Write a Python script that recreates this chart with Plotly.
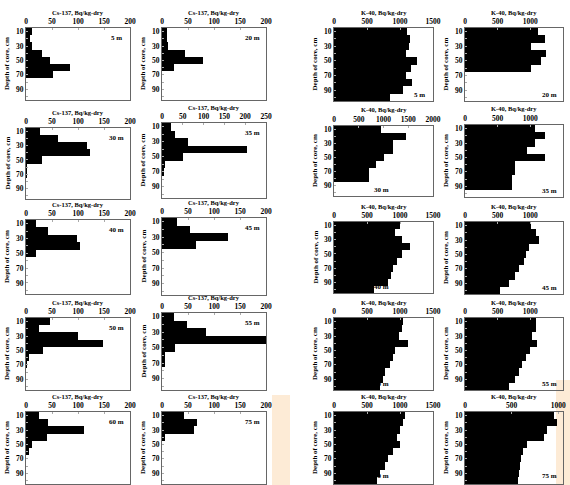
import plotly.graph_objects as go

W, H = 570, 485
depths = [10, 20, 30, 40, 50, 60, 70, 80, 90, 100]

# Cs-137 profiles (Bq/kg-dry), layers centred at depths above
cs_5m = [11, 8, 11, 30, 46, 85, 52]
cs_20m = [10, 10, 12, 45, 79, 23]
cs_30m = [27, 61, 117, 124, 31, 1, 1]
cs_35m = [22, 32, 62, 205, 50, 6, 3]
cs_40m = [20, 42, 99, 104, 19]
cs_45m = [29, 54, 127, 65]
cs_50m = [46, 25, 100, 148, 32, 5, 1]
cs_55m = [23, 48, 85, 200, 25, 5, 5]
cs_60m = [25, 43, 112, 40, 12, 5]
cs_75m = [43, 68, 61, 5]

# K-40 profiles (Bq/kg-dry)
k_5m = [1106, 1146, 1130, 1085, 1257, 1160, 1085, 1187, 1045, 843]
k_20m = [1117, 1218, 1015, 1244, 1168, 1015]
k_30m = [950, 1450, 1200, 1200, 1000, 850, 700, 700]
k_35m = [1070, 1220, 1070, 950, 1220, 760, 760, 720, 720]
k_40m = [1000, 920, 1030, 1150, 1030, 950, 900, 870, 820, 600]
k_45m = [1015, 1090, 1130, 980, 930, 900, 830, 760, 680, 530]
k_50m = [1050, 1030, 990, 1120, 920, 890, 850, 770, 740, 700]
k_55m = [1090, 1090, 1030, 1100, 990, 940, 870, 830, 760, 680]
k_60m = [1070, 1050, 1000, 950, 1000, 900, 820, 780, 700, 650]
k_75m = [950, 990, 880, 850, 660, 620, 600, 590, 580, 570]

panels = [
    # data, kind, xmax, dtick, col, (top,bottom), label, label pos
    (cs_5m, "Cs", 200, 50, 1, (28, 100), "5 m", "tr"),
    (cs_20m, "Cs", 200, 50, 2, (28, 100), "20 m", "tr"),
    (k_5m, "K", 1500, 500, 3, (28, 101), "5 m", "br"),
    (k_20m, "K", 1500, 500, 4, (28, 101), "20 m", "br"),
    (cs_30m, "Cs", 200, 50, 1, (128, 199), "30 m", "tr"),
    (cs_35m, "Cs", 250, 50, 2, (123, 198), "35 m", "tr"),
    (k_30m, "K", 2000, 500, 3, (126, 196), "30 m", "bm"),
    (k_35m, "K", 1500, 500, 4, (125, 197), "35 m", "br"),
    (cs_40m, "Cs", 200, 50, 1, (220, 294), "40 m", "tr"),
    (cs_45m, "Cs", 200, 50, 2, (218, 295), "45 m", "tr"),
    (k_40m, "K", 1500, 500, 3, (222, 293), "40 m", "bm"),
    (k_45m, "K", 1500, 500, 4, (222, 294), "45 m", "br"),
    (cs_50m, "Cs", 200, 50, 1, (318, 390), "50 m", "tr"),
    (cs_55m, "Cs", 200, 50, 2, (313, 390), "55 m", "tr"),
    (k_50m, "K", 1500, 500, 3, (318, 390), "50 m", "bm"),
    (k_55m, "K", 1500, 500, 4, (318, 390), "55 m", "br"),
    (cs_60m, "Cs", 200, 50, 1, (412, 484), "60 m", "tr"),
    (cs_75m, "Cs", 200, 50, 2, (412, 484), "75 m", "tr"),
    (k_60m, "K", 1500, 500, 3, (412, 484), "60 m", "bm"),
    (k_75m, "K", 1050, 500, 4, (412, 484), "75 m", "br"),
]

col_x = {1: (26, 130), 2: (162, 266), 3: (334, 433), 4: (465, 563)}

FONT = "Liberation Serif"
fig = go.Figure()
annotations = []

def px(x):
    return x / W

def py(y):
    return 1 - y / H

for i, (vals, kind, xmax, dt, col, (top, bot), lab, lpos) in enumerate(panels, start=1):
    xa = "x" if i == 1 else f"x{i}"
    ya = "y" if i == 1 else f"y{i}"
    fig.add_trace(go.Bar(
        x=vals, y=depths[:len(vals)], orientation="h", width=10,
        marker=dict(color="black", line=dict(width=0)),
        xaxis=xa, yaxis=ya, showlegend=False, hoverinfo="x+y",
    ))
    x0, x1 = col_x[col]
    kx = "xaxis" if i == 1 else f"xaxis{i}"
    ky = "yaxis" if i == 1 else f"yaxis{i}"
    fig.layout[kx] = dict(
        domain=[px(x0), px(x1)], anchor=ya, side="top", range=[0, xmax],
        tickvals=list(range(0, xmax + 1, dt)), ticks="inside", ticklen=2,
        tickcolor="#aaa", showline=True, linecolor="#666", linewidth=1,
        mirror=True, showgrid=False, zeroline=False, fixedrange=True,
        automargin=False,
        tickfont=dict(family=FONT, size=7.5, color="black", weight="bold"),
    )
    fig.layout[ky] = dict(
        domain=[py(bot), py(top)], anchor=xa, range=[105, 5],
        tickvals=depths, ticktext=["10", "", "30", "", "50", "", "70", "", "90", ""],
        ticks="inside", ticklen=2, tickcolor="#aaa", showline=True,
        linecolor="#666", linewidth=1, mirror=True, showgrid=False,
        zeroline=False, fixedrange=True, automargin=False,
        tickfont=dict(family=FONT, size=7.5, color="black", weight="bold"),
    )
    title = "Cs-137, Bq/kg-dry" if kind == "Cs" else "K-40, Bq/kg-dry"
    annotations.append(dict(
        text=title, x=px((x0 + x1) / 2), y=py(top - 16), xref="paper",
        yref="paper", showarrow=False, xanchor="center", yanchor="middle",
        font=dict(family=FONT, size=6.5, color="black", weight="bold"),
    ))
    annotations.append(dict(
        text="Depth of core, cm", x=px(x0 - 19), y=py((top + bot) / 2),
        xref="paper", yref="paper", showarrow=False, textangle=-90,
        xanchor="center", yanchor="middle",
        font=dict(family=FONT, size=7, color="black", weight="bold"),
    ))
    if lpos == "tr":
        lx, ly = x1 - 14, top + 10
    elif lpos == "br":
        lx, ly = x1 - 14, min(bot - 6, 476)
    else:
        lx, ly = x0 + 47, min(bot - 6, 476)
    annotations.append(dict(
        text=lab, x=px(lx), y=py(ly), xref="paper", yref="paper",
        showarrow=False, xanchor="center", yanchor="middle",
        font=dict(family=FONT, size=7, color="black", weight="bold"),
    ))

shapes = [
    dict(type="rect", xref="paper", yref="paper", x0=px(272), x1=px(290),
         y0=0, y1=py(395), fillcolor="rgba(250,190,120,0.3)", line=dict(width=0),
         layer="below"),
    dict(type="rect", xref="paper", yref="paper", x0=px(556), x1=1,
         y0=0, y1=py(380), fillcolor="rgba(250,190,120,0.3)", line=dict(width=0),
         layer="below"),
]

fig.update_layout(
    width=W, height=H, margin=dict(l=0, r=0, t=0, b=0),
    paper_bgcolor="white", plot_bgcolor="white", bargap=0,
    annotations=annotations, shapes=shapes, showlegend=False,
)

fig.write_html("out.html", config={"displayModeBar": False},
               post_script="document.body.style.margin='0';")
